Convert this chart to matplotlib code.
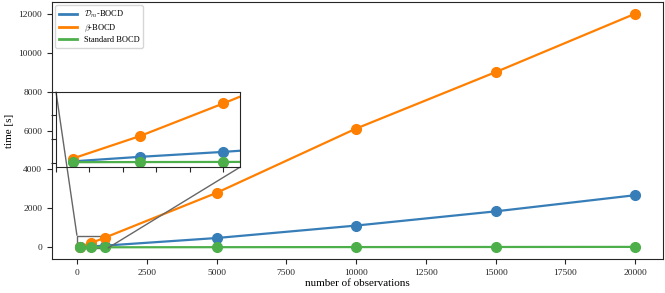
import numpy as np
import matplotlib
matplotlib.use("Agg")
import matplotlib.pyplot as plt
from mpl_toolkits.axes_grid1.inset_locator import mark_inset

plt.rcParams["font.family"] = "Liberation Serif"
plt.rcParams["mathtext.fontset"] = "cm"
plt.rcParams["axes.edgecolor"] = "0.15"
plt.rcParams["xtick.color"] = "0.15"
plt.rcParams["ytick.color"] = "0.15"

n_obs = [100, 500, 1000, 5000, 10000, 15000, 20000]
dm_bocd = [10, 48, 90, 480, 1120, 1850, 2680]
beta_bocd = [34, 223, 500, 2800, 6100, 9000, 12000]
std_bocd = [3, 4, 5, 10, 15, 20, 25]

labels = [r"$\mathcal{D}_m$-BOCD", r"$\beta$-BOCD", "Standard BOCD"]
colors = ["#377eb8", "#ff7f00", "#4daf4a"]
series = [dm_bocd, beta_bocd, std_bocd]

fig = plt.figure(figsize=(6.65, 2.93), dpi=100)
ax = fig.add_axes([52/665, 1 - 259/293, 611/665, 257/293])

for y, c, lab in zip(series, colors, labels):
    ax.plot(n_obs, y, color=c, lw=1.6, label=lab)
    ax.plot(n_obs, y, color=c, ls="none", marker="o", ms=7)

ax.set_xlabel("number of observations", fontsize=8, labelpad=2)
ax.set_ylabel("time [s]", fontsize=8, labelpad=3)
ax.tick_params(labelsize=6.8, length=3.5, width=0.8)
leg = ax.legend(loc="upper left", fontsize=6, frameon=True, borderaxespad=0.4,
                handlelength=2.2, labelspacing=0.3)
for h in leg.get_lines():
    h.set_linewidth(2)

axins = ax.inset_axes([0.0065, 0.357, 0.301, 0.294])
for y, c in zip(series, colors):
    axins.plot(n_obs, y, color=c, lw=1.6, marker="o", ms=7)
axins.set_xlim(0, 1100)
axins.set_ylim(-40, 600)
axins.set_xticks([0, 200, 400, 600, 800, 1000])
axins.set_yticks([0, 200, 400, 600])
axins.set_xticklabels([])
axins.set_yticklabels([])
axins.tick_params(length=3.5, width=0.8)
mark_inset(ax, axins, loc1=2, loc2=4, fc="none", ec="0.4", lw=1)

fig.savefig("out.png", dpi=100)
